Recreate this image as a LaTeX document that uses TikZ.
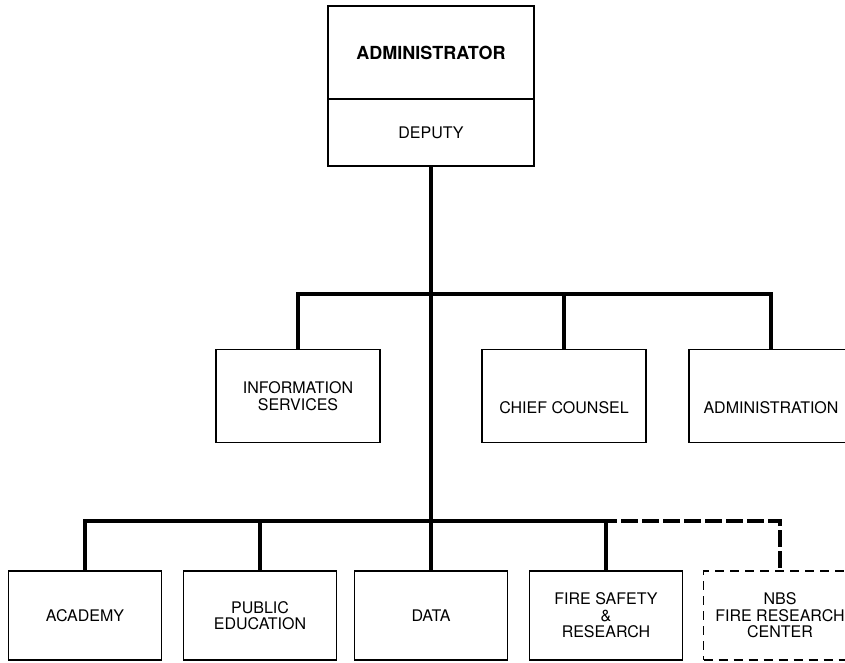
\documentclass[tikz,border=0pt]{standalone}
\usepackage{fontspec}
\setmainfont{TeX Gyre Heros}
\usetikzlibrary{positioning}

\begin{document}
\begin{tikzpicture}[
      x=1pt, y=-1pt,
      unit/.style={rectangle, draw, line width=1.6pt, outer sep=0pt, inner sep=2pt,
        minimum width=153pt, minimum height=89pt, align=center,
        font=\fontsize{16}{16.5}\selectfont},
      staff/.style={unit, minimum width=164pt, minimum height=93pt},
      lowtext/.style={text height=35pt, text depth=0pt},
      planunit/.style={unit, dash pattern=on 9pt off 6pt},
      link/.style={line width=4.5pt},
      planned/.style={line width=3.8pt, dash pattern=on 17pt off 4pt, dash phase=6pt}
    ]
    \useasboundingbox (0,0) rectangle (845,663);
    \clip (0,0) rectangle (845,663);
    % head of the agency
    \node[unit, minimum width=206pt, minimum height=93pt,
      font=\fontsize{18}{20}\bfseries] (admin) at (431,52.5) {ADMINISTRATOR};
    \node[unit, minimum width=206pt, minimum height=67pt, below=0pt of admin] (deputy) {DEPUTY};
    % staff offices
    \node[staff] (info) at (298,396) {INFORMATION\\SERVICES};
    \node[staff, lowtext, right=102pt of info] (counsel) {CHIEF COUNSEL};
    \node[staff, lowtext, right=43pt of counsel] (office) {ADMINISTRATION};
    % line offices
    \node[unit] (academy) at (85,615.5) {ACADEMY};
    \node[unit, right=22pt of academy] (educ) {PUBLIC\\EDUCATION};
    \node[unit, right=18pt of educ] (data) {DATA};
    \node[unit, right=22pt of data] (fire) {FIRE SAFETY\\\&\\RESEARCH};
    \node[planunit, right=21pt of fire] (nbs) {NBS\\FIRE RESEARCH\\CENTER};
    \coordinate (staffbar) at (431,294);
    \coordinate (linebar) at (431,521);
    % connectors
    \draw[link] (deputy.south) -- (data.north);
    \draw[link] (info.north) |- (staffbar) -| (office.north);
    \draw[link] (counsel.north) -- (counsel.north |- staffbar);
    \draw[link] (academy.north) |- (fire.north |- linebar) -- (fire.north);
    \draw[link] (educ.north) -- (educ.north |- linebar);
    \draw[planned] (fire.north |- linebar) -| (nbs.north);
\end{tikzpicture}
\end{document}
